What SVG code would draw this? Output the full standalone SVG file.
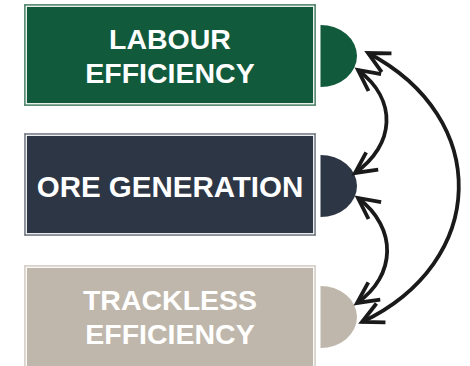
<svg xmlns="http://www.w3.org/2000/svg" width="470" height="366" viewBox="0 0 470 366">
<style>
.lbl{font-family:"Liberation Sans",Arial,sans-serif;font-weight:bold;font-size:28.5px;fill:#ffffff;text-anchor:middle}
.gap{fill:none;stroke:#ffffff;stroke-width:1.4}
.conn{fill:none;stroke:#1a1a1a;stroke-width:3.8}
</style>
<defs>
<marker id="ah" markerUnits="userSpaceOnUse" markerWidth="40" markerHeight="40" refX="0" refY="0" orient="auto-start-reverse" overflow="visible">
<path d="M-21,-10.5 L0,0 L-21,10.5" fill="none" stroke="#1a1a1a" stroke-width="3.8" stroke-linejoin="miter"/>
</marker>
</defs>
<rect width="470" height="366" fill="#ffffff"/>
<g id="node-labour">
<rect x="24.5" y="4.5" width="291" height="101" fill="#115a3b" stroke="#5e8f76" stroke-width="1"/>
<rect x="26.2" y="6.2" width="287.6" height="97.6" class="gap"/>
<path d="M320.5,25 A36.5,31 0 0 1 320.5,87 Z" fill="#115a3b"/>
<text class="lbl" x="170" y="49">LABOUR</text>
<text class="lbl" x="170" y="83">EFFICIENCY</text>
</g>
<g id="node-ore">
<rect x="24.5" y="133.5" width="291" height="102" fill="#2d3644" stroke="#8a919c" stroke-width="1"/>
<rect x="26.2" y="135.2" width="287.6" height="98.6" class="gap"/>
<path d="M320.5,155 A36.5,31 0 0 1 320.5,217 Z" fill="#2d3644"/>
<text class="lbl" x="170" y="197" style="font-size:29.5px">ORE GENERATION</text>
</g>
<g id="node-trackless">
<rect x="24.5" y="265.5" width="291" height="110" fill="#bfb7ab" stroke="#d9d3cb" stroke-width="1"/>
<rect x="26.2" y="267.2" width="287.6" height="110" class="gap"/>
<path d="M320.5,286 A36.5,31 0 0 1 320.5,348 Z" fill="#bfb7ab"/>
<text class="lbl" x="170" y="310">TRACKLESS</text>
<text class="lbl" x="170" y="344">EFFICIENCY</text>
</g>
<g id="connectors">
<path class="conn" d="M358,70 C398,100 395,145 355,173" marker-start="url(#ah)" marker-end="url(#ah)"/>
<path class="conn" d="M358,198 C398,228 396,276 357,303" marker-start="url(#ah)" marker-end="url(#ah)"/>
<path class="conn" d="M368,53 C492,118 488,262 362,322" marker-start="url(#ah)" marker-end="url(#ah)"/>
</g>
</svg>
